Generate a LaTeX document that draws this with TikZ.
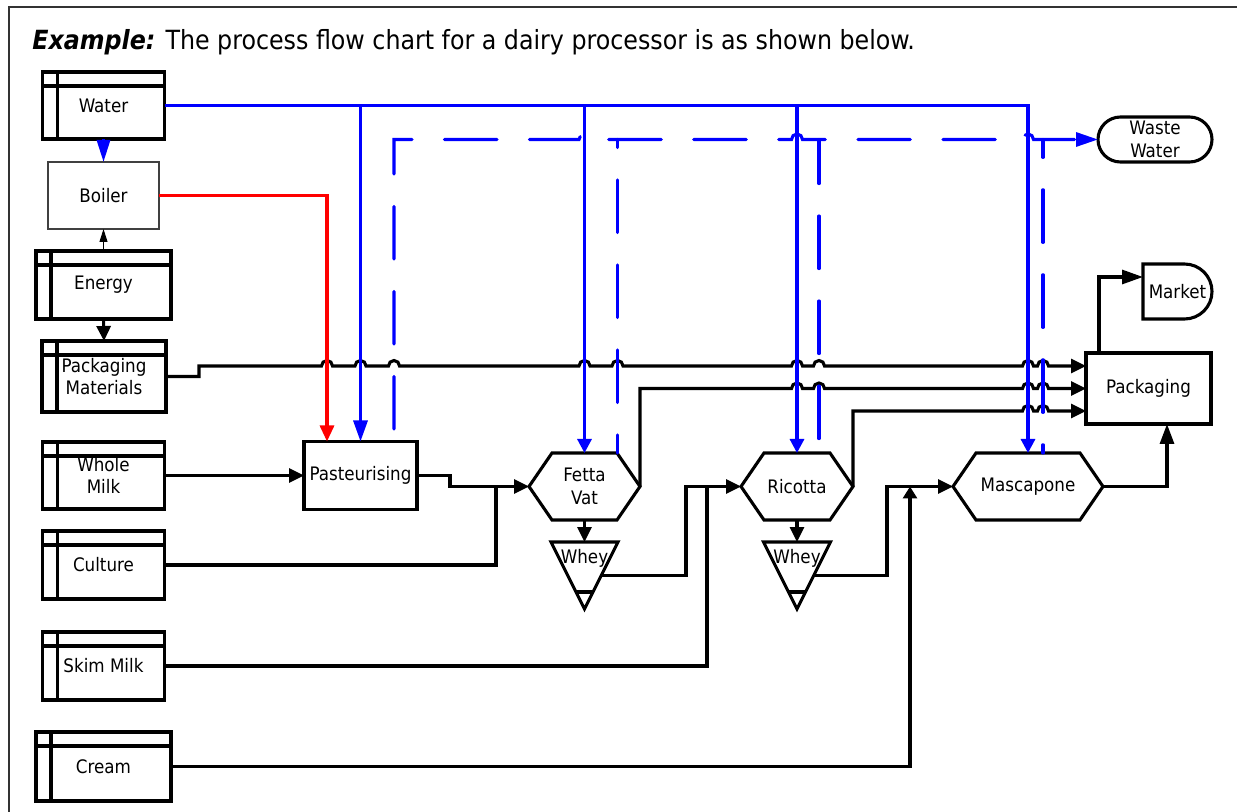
\documentclass[tikz,border=0pt]{standalone}
\usepackage{fontspec}
\setmainfont{DejaVu Sans Condensed}
\usetikzlibrary{arrows.meta,calc}

% a small bridge where a horizontal line jumps over a vertical one
\newcommand\hop[2]{-- (#1-5.5,#2) arc[start angle=180,end angle=0,radius=2.75pt]}

\begin{document}
\begin{tikzpicture}[x=0.5pt,y=-0.5pt,
  lw/.style={line width=1.55pt},
  nodefont/.style={font=\fontsize{9.3}{11.3}\selectfont},
  box/.style={draw, lw, rectangle, inner sep=0pt, outer sep=0pt, nodefont},
  plain/.style={rectangle, inner sep=0pt, outer sep=0pt, nodefont},
  tip/.style={-{Triangle[length=#1,width=7pt]}},
  tip/.default=7.5pt,
  flow/.style={lw, tip},
  blueline/.style={lw, draw={rgb,255:red,0;green,0;blue,255}},
  redline/.style={lw, draw={rgb,255:red,255;green,0;blue,0}},
  wasteline/.style={blueline, line cap=round, dash pattern=on 26.3pt off 16.2pt},
]
\useasboundingbox (0,0) rectangle (1237,812);

% outer frame
\draw[black!80, line width=1pt] (9,812) -- (9,7) -- (1237,7);

% heading
\node[anchor=base west, inner sep=0pt, font=\fontsize{13.2}{15}\selectfont] (title) at (32,50)
  {\textbf{\textit{Example:}} The process flow chart for a dairy processor is as shown below.};

% input stores
\node[box, minimum width=61pt,   minimum height=33.5pt] (water)   at (103.5,105.5) {Water};
\node[box, minimum width=67.5pt, minimum height=34pt]   (energy)  at (103.5,285)   {Energy};
\node[box, minimum width=62pt,   minimum height=35.5pt, align=center] (pm) at (104,376.5) {Packaging\\Materials};
\node[box, minimum width=61pt,   minimum height=33.5pt, align=center] (whole) at (103.5,475.5) {Whole\\Milk};
\node[box, minimum width=61pt,   minimum height=34pt]   (culture) at (103.5,565)   {Culture};
\node[box, minimum width=61pt,   minimum height=34pt]   (skim)    at (103.5,666)   {Skim Milk};
\node[box, minimum width=67.5pt, minimum height=34.5pt] (cream)   at (103.5,766.5) {Cream};
\foreach \n in {water,energy,pm,whole,culture,skim,cream}{
  \draw[lw] ([xshift=7.5pt]\n.north west) -- ([xshift=7.5pt]\n.south west);
  \draw[lw] ([yshift=-7pt]\n.north west) -- ([yshift=-7pt]\n.north east);
}

% boiler
\node[box, draw=black!75, line width=0.6pt, minimum width=55.5pt, minimum height=33.5pt] (boiler) at (103.5,195.5) {Boiler};

% process steps
\node[box, minimum width=56.5pt, minimum height=34pt] (past) at (360.5,475.5) {Pasteurising};
\node[plain, minimum width=55.5pt, minimum height=33.5pt, align=center] (fetta) at (584.5,486.5) {Fetta\\Vat};
\node[plain, minimum width=56pt, minimum height=33.5pt] (ricotta) at (797,486.5) {Ricotta};
\node[plain, minimum width=75pt, minimum height=33.5pt] (masc) at (1028,486.5) {Mascapone};
\foreach \n in {fetta,ricotta,masc}{
  \draw[lw] ([xshift=11.5pt]\n.north west) -- ([xshift=-11.5pt]\n.north east) -- (\n.east)
    -- ([xshift=-11.5pt]\n.south east) -- ([xshift=11.5pt]\n.south west) -- (\n.west) -- cycle;
}

% whey outlets
\node[plain, minimum width=33.5pt, text height=10.5pt, text depth=23pt] (whey1) at (584.5,575.5) {Whey};
\node[plain, minimum width=33.5pt, text height=10.5pt, text depth=23pt] (whey2) at (797,575.5) {Whey};
\foreach \n in {whey1,whey2}{
  \draw[lw, line join=miter] (\n.north west) -- (\n.north east) -- (\n.south) -- cycle;
  \draw[lw] ($(\n.south)!0.254!(\n.north west)$) -- ($(\n.south)!0.254!(\n.north east)$);
}

% outputs
\node[box, minimum width=62.5pt, minimum height=35.5pt] (pack) at (1148.5,388.5) {Packaging};
\node[plain, minimum width=34.5pt, minimum height=27.5pt] (market) at (1177.5,291.5) {Market};
\draw[lw] (market.north west) -- ++(41.5,0) arc[start angle=90,end angle=-90,radius=13.75pt]
  -- (market.south west) -- cycle;
\node[box, rounded corners=11.25pt, minimum width=57pt, minimum height=22.5pt, align=center] (waste) at (1155,139.5) {Waste\\Water};

% junction points
\coordinate (j1) at ($(fetta.west)+(-33,0)$);
\coordinate (j2) at ($(ricotta.west)+(-34,0)$);
\coordinate (j3) at ($(masc.west)+(-43,0)$);
\coordinate (w1) at ($(whey1.north east)!0.5!(whey1.south)$);
\coordinate (w2) at ($(whey2.north east)!0.5!(whey2.south)$);

% energy
\draw[line width=0.5pt, -{Triangle[length=6.5pt,width=4pt]}] (energy.north) -- (boiler.south);
\draw[flow] (energy.south) -- (pm.north);

% product flow
\draw[flow] (whole.east) -- (past.west);
\draw[flow] (past.east) -- ++(33,0) |- (fetta.west);
\draw[lw] (culture.east) -| (j1);
\draw[flow] (fetta.south) -- (whey1.north);
\draw[flow] (w1) -| ($(ricotta.west)+(-55,0)$) -- (ricotta.west);
\draw[lw] (skim.east) -| (j2);
\draw[flow] (ricotta.south) -- (whey2.north);
\draw[flow] (w2) -| ($(masc.west)+(-66,0)$) -- (masc.west);
\draw[lw, tip=6pt] (cream.east) -| (j3);
\draw[lw, tip=10pt] (masc.east) -| ([xshift=-22pt]pack.south east);
\draw[lw, tip=10.5pt] ([xshift=6.5pt]pack.north west) |- ([yshift=7.25pt]market.west);

% feeds into packaging
\draw[flow] (pm.east) -- ++(33,0) -- ++(0,-10.5)
  \hop{327}{366} \hop{360.5}{366} \hop{394}{366} \hop{584.5}{366} \hop{617.5}{366}
  \hop{797}{366} \hop{819}{366} \hop{1028}{366} \hop{1043}{366}
  -- ([yshift=11.25pt]pack.west);
\draw[flow] (fetta.east) -- ++(0,-98)
  \hop{797}{388.5} \hop{819}{388.5} \hop{1028}{388.5} \hop{1043}{388.5}
  -- (pack.west);
\draw[flow] (ricotta.east) -- ++(0,-75.5)
  \hop{1028}{411} \hop{1043}{411}
  -- ([yshift=-11.25pt]pack.west);

% steam
\draw[redline, tip=8pt] (boiler.east) -| ($(past.north west)+(23,0)$);

% water supply
\draw[blueline, -{Triangle[length=11pt,width=6.5pt]}] (water.south) -- (boiler.north);
\draw[blueline, tip=7pt] (water.east) -| (masc.north);
\draw[blueline, tip=10.5pt] (past.north |- water.east) -- (past.north);
\draw[blueline, tip=7pt] (fetta.north |- water.east) -- (fetta.north);
\draw[blueline, tip=7pt] (ricotta.north |- water.east) -- (ricotta.north);

% waste water
\coordinate (pw) at ($(past.north east)+(-23,0)$);
\coordinate (fw) at ($(fetta.north east)+(-22.5,0)$);
\coordinate (rw) at ($(ricotta.north east)+(-34,0)$);
\coordinate (mw) at ($(masc.north)+(15,0)$);
\draw[wasteline, dash phase=36.25pt, -{Triangle[length=11pt,width=7pt]}] (pw) -- (pw |- waste.west)
  \hop{584.5}{139.5} \hop{797}{139.5} \hop{1028}{139.5} -- (waste.west);
\draw[wasteline, dash phase=17.25pt] (fw) -- (fw |- waste.west);
\draw[wasteline, dash phase=35.3pt] (rw) -- (rw |- waste.west);
\draw[wasteline, dash phase=22.2pt] (mw) -- (mw |- waste.west);
\end{tikzpicture}
\end{document}
